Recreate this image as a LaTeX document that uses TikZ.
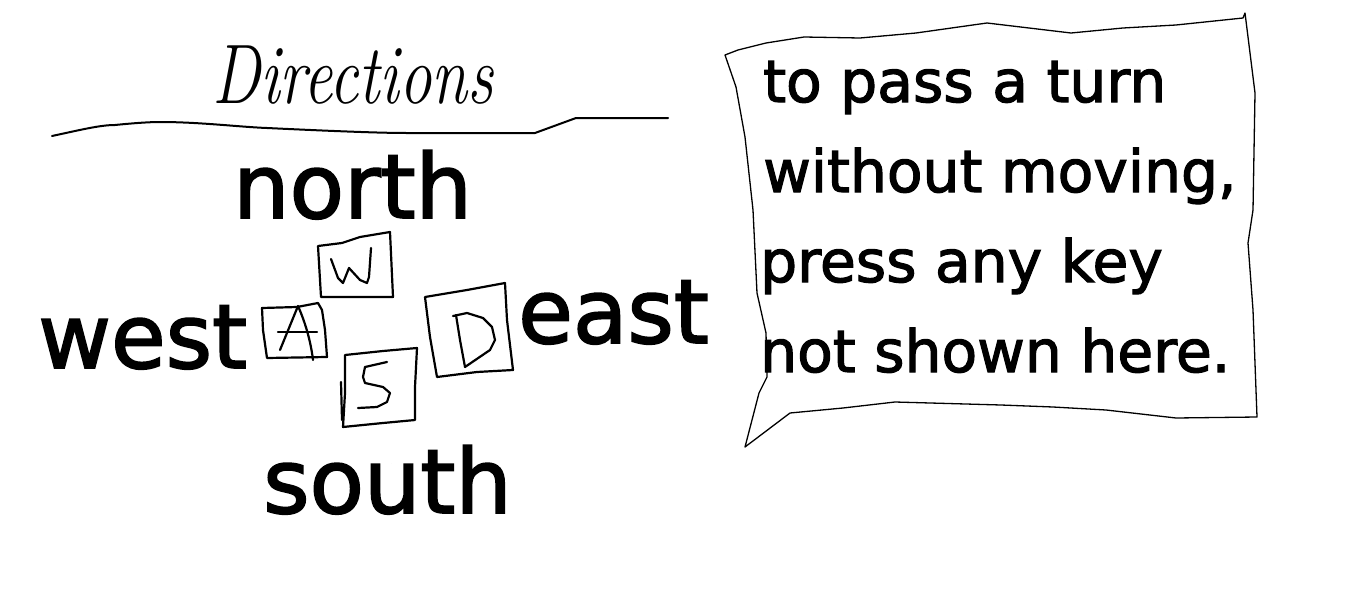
\documentclass[tikz,border=0pt]{standalone}
\usepackage{fontspec}
\newfontfamily\handfont[BoldFont={DejaVu Sans},BoldFeatures={FakeBold=2}]{DejaVu Sans}
\begin{document}
\begin{tikzpicture}[x=1pt,y=-1pt,
  word/.style={anchor=base west,inner sep=0pt,font=\handfont\bfseries\fontsize{89}{89}\selectfont},
  note/.style={anchor=base west,inner sep=0pt,font=\handfont\bfseries\fontsize{58.3}{60}\selectfont},
  hand/.style={line width=2.2pt,line join=round,line cap=round},
  paper/.style={line width=1.3pt,line join=round,line cap=round},
  rule/.style={line width=2pt,line join=round,line cap=round}]
\useasboundingbox (0,0) rectangle (1360,594);
\fill[white] (0,0) rectangle (1360,594);

% title
\node[anchor=base west,inner sep=0pt,font=\fontsize{65}{65}\selectfont\itshape] (title) at (212,103) {\scalebox{1}[1.3]{Directions}};
\draw[rule] (52,136) .. controls (80,130) and (100,125) .. (115,125)
  .. controls (135,123) and (150,122) .. (160,122)
  .. controls (200,122) and (240,127) .. (267,128)
  .. controls (330,131) and (380,133) .. (406,133)
  -- (535,133) -- (576,118) -- (668,118);

% direction words
\node[word] (north) at (233,218) {north};
\node[word] (west) at (38,368) {west};
\node[word] (east) at (518,343) {east};
\node[word] (south) at (263,513) {south};

% W key
\draw[hand] (318,246) -- (342,243) -- (360,237) -- (390,232) -- (393,297) -- (321,297) -- cycle;
\draw[hand] (331,259) -- (338,278) -- (343,283) -- (347,273) -- (349,268) -- (360,280) -- (367,283) -- (369,277) -- (371,248);
% A key
\draw[hand] (262,308) -- (297,307) -- (318,303) -- (322,310) -- (325,330) -- (327,357) -- (267,358) -- (263,330) -- cycle;
\draw[hand] (280,350) -- (298,306) .. controls (302,315) and (310,335) .. (313,360);
\draw[hand] (278,332) -- (317,332);
% S key
\draw[hand] (345,355) -- (383,351) -- (417,348) -- (415,387) -- (415,420) -- (383,423) -- (343,427) -- (345,393) -- cycle;
\draw[hand] (341,382) -- (342,420);
\draw[hand] (387,362) -- (365,367) -- (363,377) -- (365,383) -- (383,387) -- (390,393) -- (387,402) -- (377,407) -- (358,408);
% D key
\draw[hand] (425,297) -- (467,290) -- (505,283) -- (507,320) -- (513,370) -- (477,372) -- (437,377) -- (430,337) -- cycle;
\draw[hand] (456,315) -- (460,340) -- (465,367);
\draw[hand] (453,316) -- (467,313) -- (483,318) -- (492,327) -- (495,340) -- (490,350) -- (465,367);

% note paper
\draw[paper] (725,55) -- (738,50) -- (766,43) -- (804,37) -- (860,38) -- (916,33) -- (987,23)
  -- (1071,33) -- (1123,28) -- (1176,25) -- (1243,18) -- (1245,13)
  -- (1248,37) -- (1255,93) -- (1253,210) -- (1248,243) -- (1253,310) -- (1257,417)
  -- (1176,418) -- (1106,410) -- (1053,407) -- (1001,405) -- (895,402) -- (843,408) -- (790,413) -- (745,447)
  -- (759,393) -- (767,377) -- (766,333) -- (757,293) -- (753,210) -- (745,137) -- (736,87) -- cycle;
\node[note] (note1) at (763,102) {to pass a turn};
\node[note] (note2) at (763,192) {without moving,};
\node[note] (note3) at (760,282) {press any key};
\node[note] (note4) at (760,372) {not shown here.};
\end{tikzpicture}
\end{document}
